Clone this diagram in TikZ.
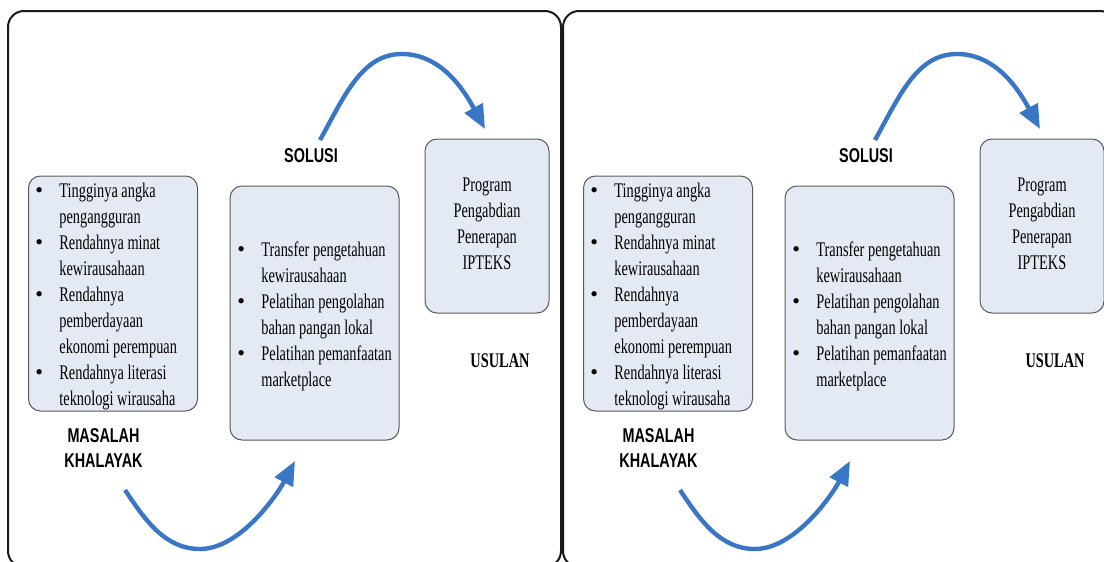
\documentclass[tikz,border=0pt]{standalone}
\usepackage{fontspec}
\usetikzlibrary{arrows.meta}

\newfontfamily\bodyfont[FakeStretch=0.69]{Liberation Serif}
\newfontfamily\headfont[FakeStretch=0.72]{Liberation Sans}
\newfontfamily\bulletfont{Liberation Serif}

\definecolor{arrowblue}{RGB}{58,118,198}
\definecolor{boxfill}{RGB}{228,234,244}
\definecolor{boxline}{RGB}{90,90,90}

\newcommand{\bul}{\makebox[12pt][l]{\bulletfont\fontsize{11}{13}\selectfont\textbullet}}
\newcommand{\nob}{\hspace*{12pt}}

\tikzset{
  panel/.style={draw=black!90, line width=1pt, rounded corners=8pt},
  listbox/.style={draw=boxline, line width=0.5pt, fill=boxfill, rounded corners=6pt, inner sep=0pt},
  listtext/.style={font=\fontsize{10.4}{13}\selectfont\bodyfont, align=left, inner sep=0pt, anchor=north west},
  heading/.style={font=\fontsize{10}{12.5}\selectfont\headfont\bfseries, align=center, inner sep=0pt},
  flow/.style={draw=arrowblue, line width=2.2pt, -{Triangle[length=12pt,width=10pt]}}
}

\begin{document}
\begin{tikzpicture}[x=0.5pt, y=-0.5pt]
	\useasboundingbox (0,0) rectangle (1104,562);
	\clip (0,0) rectangle (1104,562);

	% two identical panels
	\foreach \p/\dx in {a/0, b/555}{
	\begin{scope}[shift={(\dx,0)}]
		\draw[panel] (8,11) rectangle (561,567);

		% boxes
		\node[listbox, minimum width=84.5pt, minimum height=117.5pt] (masalah\p) at (113,293.5) {};
		\node[listbox, minimum width=84.5pt, minimum height=127pt] (solusi\p) at (314.5,313) {};
		\node[listbox, minimum width=62pt, minimum height=87pt] (usulan\p) at (487,226) {};

		% texts
		\node[listtext] (masalahtxt\p) at (35,182.5) {\bul Tingginya angka\\
			\nob pengangguran\\
			\bul Rendahnya minat\\
			\nob kewirausahaan\\
			\bul Rendahnya\\
			\nob pemberdayaan\\
			\nob ekonomi perempuan\\
			\bul Rendahnya literasi\\
			\nob teknologi wirausaha};
		\node[listtext] (solusitxt\p) at (237,241) {\bul Transfer pengetahuan\\
			\nob kewirausahaan\\
			\bul Pelatihan pengolahan\\
			\nob bahan pangan lokal\\
			\bul Pelatihan pemanfaatan\\
			\nob marketplace};
		\node[listtext, anchor=center, align=center] (usulantxt\p) at (487,224) {Program\\Pengabdian\\Penerapan\\IPTEKS};

		% labels
		\node[heading] (masalahlbl\p) at (103.5,448) {MASALAH\\KHALAYAK};
		\node[heading] (solusilbl\p) at (311,156) {SOLUSI};
		\node[font=\fontsize{10.4}{12}\selectfont\bodyfont\bfseries, inner sep=0pt] (usulanlbl\p) at (500,361) {USULAN};

		% arrows
		\coordinate (masout\p) at (125,490);
		\coordinate (masdip\p) at (200,549);
		\coordinate (solin\p) at (295,461);
		\draw[flow] (masout\p) .. controls +(20,30) and +(-35,0) .. (masdip\p)
			.. controls +(40,0) and +(-18,34) .. (solin\p);

		\coordinate (solout\p) at (320,140);
		\coordinate (solpeak\p) at (402,54);
		\coordinate (usulin\p) at (485,129);
		\draw[flow] (solout\p) .. controls +(25,-45) and +(-40,0) .. (solpeak\p)
			.. controls +(40,0) and +(-20,-37) .. (usulin\p);
	\end{scope}
	}
\end{tikzpicture}
\end{document}
